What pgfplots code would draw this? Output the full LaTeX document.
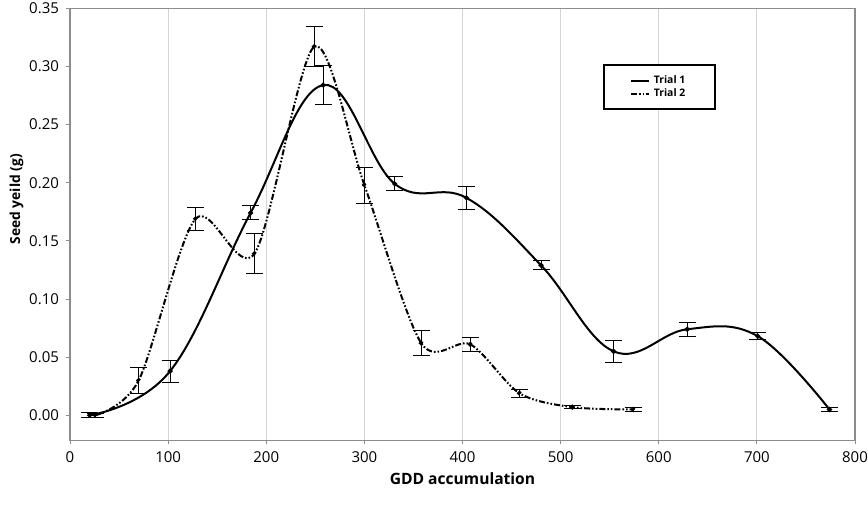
\documentclass[border=0pt]{standalone}
\usepackage{fontspec}
\setmainfont{Open Sans}
\usepackage{pgfplots}
\pgfplotsset{compat=1.18}
\usepackage{pgfplotstable}
\definecolor{framegray}{HTML}{8C8C8C}
\definecolor{gridgray}{HTML}{D4D4D4}

% x = GDD, y = seed yield (g), e = error
\pgfplotstableread{
x    y      e
20   0.000  0.0020
102  0.038  0.0095
184  0.174  0.0060
258  0.284  0.0170
331  0.199  0.0060
404  0.187  0.0100
480  0.129  0.0040
554  0.055  0.0093
629  0.074  0.0060
701  0.068  0.0030
774  0.005  0.0015
}\trialone
\pgfplotstableread{
x    y      e
26   0.000  0.0015
70   0.030  0.0115
128  0.169  0.0100
188  0.139  0.0170
249  0.317  0.0170
300  0.198  0.0155
358  0.062  0.0105
408  0.061  0.0060
458  0.019  0.0035
512  0.007  0.0015
574  0.005  0.0015
}\trialtwo

\begin{document}
\begin{tikzpicture}
\begin{axis}[
  name=ax,
  scale only axis,
  width=392.5pt, height=216pt,
  xmin=0, xmax=800, ymin=-0.0215, ymax=0.35,
  xtick={0,100,...,800},
  ytick={0,0.05,...,0.35},
  axis line style={framegray, line width=0.6pt},
  tick style={framegray, line width=0.5pt},
  tick align=outside, major tick length=2pt,
  xtick pos=bottom, ytick pos=left,
  xmajorgrids, grid style={gridgray, line width=0.5pt},
  ticklabel style={font=\fontsize{7.5}{9}\selectfont, black},
  /pgf/number format/assume math mode=true,
  yticklabel style={/pgf/number format/.cd, fixed, fixed zerofill, precision=2},
  scaled y ticks=false,
  xlabel={\textbf{GDD accumulation}},
  xlabel style={font=\fontsize{7.8}{10}\selectfont, at={(axis description cs:0.5,-0.088)}, anchor=center},
  ylabel={\textbf{Seed yeild (g)}},
  ylabel style={font=\fontsize{6.9}{8}\selectfont, at={(axis description cs:-0.068,0.558)}, anchor=center},
  legend style={at={(axis description cs:0.679,0.870)}, anchor=north west,
    draw=black, line width=1pt, font=\fontsize{5.2}{6}\selectfont\bfseries,
    inner xsep=13pt, inner ysep=3pt,
    row sep=-3pt, legend cell align=left},
  legend image code/.code={\draw[#1, mark=none, line width=0.9pt] (0pt,0pt) -- (9pt,0pt);},
  error bars/error bar style={black, line width=0.5pt, solid},
  error bars/error mark options={rotate=90, mark size=4.25pt, black, line width=0.5pt},
]
\addplot[black, line width=1pt, smooth, tension=0.65, mark=*, mark size=0.7pt,
  error bars/.cd, y dir=both, y explicit]
  table[x=x, y=y, y error=e] {\trialone};
\addlegendentry{Trial 1}
\addplot[black, line width=1pt, smooth, mark=*, mark size=0.7pt,
  dash pattern=on 3pt off 1pt on 0.8pt off 1pt on 0.8pt off 1pt,
  error bars/.cd, y dir=both, y explicit]
  table[x=x, y=y, y error=e] {\trialtwo};
\addlegendentry{Trial 2}
\end{axis}
\pgfresetboundingbox
\path ([shift={(-35pt,-32.35pt)}]ax.south west) rectangle ([shift={(6.5pt,4.15pt)}]ax.north east);
\end{tikzpicture}
\end{document}
